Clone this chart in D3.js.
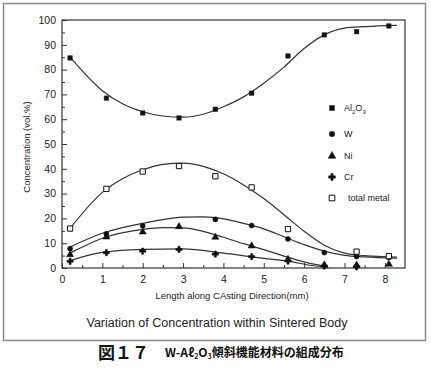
<!DOCTYPE html>
<html>
<head>
<meta charset="utf-8">
<script src="https://cdn.jsdelivr.net/npm/d3@7"></script>
<style>
  body { margin: 0; background: #fff; }
  svg { display: block; font-family: "Liberation Sans", Arial, sans-serif; }
</style>
</head>
<body>
<svg id="chart" width="431" height="373"></svg>
<script>
// positions de mesure (mm) et concentrations lues (vol.%)
const lengths = [0.2, 1.1, 2.0, 2.9, 3.8, 4.7, 5.6, 6.5, 7.3, 8.1];
const al2o3 = [84.7, 68.5, 62.5, 60.5, 64, 70.5, 85.5, 94, 95.3, 97.6];
const tungsten = [7.8, 13.8, 17, null, 19.6, 17.1, 11.7, 6.2, 4.6, 4.2];
const nickel = [5.4, 12.5, 14.5, 16.7, 12.4, 8.9, 3.5, 1.2, 1.2, 1.5];
const chromium = [2.7, 6.2, 6.8, 7.5, 5.6, 4.6, 2.8, 0.8, 0.5, null];
const totalMetal = [15.9, 31.9, 38.9, 41.1, 37, 32.5, 15.7, null, 6.6, 4.8];

// courbes lissées
const al2o3Fit = [[0.2, 85], [1, 71.5], [1.5, 66.2], [2, 63], [2.5, 61.3], [3, 60.8], [3.5, 62], [4, 65],
  [4.5, 69], [5, 74.5], [5.5, 81], [6, 88.5], [6.5, 94], [7, 96.7], [7.5, 97.3], [8.3, 97.8]];
const totalFit = [[0.2, 16], [1, 30.5], [1.5, 36], [2, 39.6], [2.5, 41.8], [3, 42.3], [3.5, 41], [4, 38],
  [4.5, 33.5], [5, 28], [5.5, 21.5], [6, 14.8], [6.5, 9.2], [7, 6], [7.5, 5], [8.3, 4.4]];
const tungstenFit = [[0.2, 8.5], [1, 14], [2, 18], [3, 20.5], [3.5, 20.6], [4, 19.8], [4.5, 18], [5, 15.8],
  [5.5, 12.6], [6, 9.4], [6.5, 6.8], [7, 5.1], [7.5, 4.5], [8.3, 4]];
const nickelFit = [[0.2, 6], [1, 12], [2, 15.6], [2.5, 16.3], [3, 16.2], [3.5, 14.8], [4, 12.4], [4.5, 9.8],
  [5, 7.4], [5.5, 4.8], [6, 2.5], [6.5, 0.8]];
const chromiumFit = [[0.2, 3], [1, 6.3], [2, 7.5], [3, 7.7], [4, 6], [5, 3.9], [5.6, 2.8], [6.2, 1], [6.6, 0.3]];

const xTicks = [0, 1, 2, 3, 4, 5, 6, 7, 8];
const yTicks = [0, 10, 20, 30, 40, 50, 60, 70, 80, 90, 100];

const svg = d3.select("#chart");

// cadre extérieur (scan)
svg.append("rect")
  .attr("x", 3.5).attr("y", 3.5).attr("width", 422).attr("height", 337)
  .attr("fill", "none").attr("stroke", "#8a8a8a").attr("stroke-width", 1.5);

const x = d3.scaleLinear().domain([0, 8.5]).range([62, 405]);
const y = d3.scaleLinear().domain([0, 100]).range([268, 20]);

// graduations mineures (vers l'intérieur)
svg.append("g")
  .attr("transform", "translate(62,0)")
  .call(d3.axisLeft(y).tickValues(d3.range(5, 100, 10)).tickSize(-3).tickFormat(""))
  .call(g => g.select(".domain").remove());
svg.append("g")
  .attr("transform", "translate(0,268)")
  .call(d3.axisBottom(x).tickValues(d3.range(0.5, 8.5, 1)).tickSize(-3).tickFormat(""))
  .call(g => g.select(".domain").remove());

// graduations majeures avec labels
svg.append("g")
  .attr("transform", "translate(62,0)")
  .call(d3.axisLeft(y).tickValues(yTicks).tickSize(-5).tickPadding(6))
  .call(g => g.select(".domain").remove())
  .call(g => g.selectAll("text").attr("font-size", 10.5).attr("fill", "#222").attr("font-family", "Liberation Sans"));
svg.append("g")
  .attr("transform", "translate(0,268)")
  .call(d3.axisBottom(x).tickValues(xTicks).tickSize(-5).tickPadding(8))
  .call(g => g.select(".domain").remove())
  .call(g => g.selectAll("text").attr("font-size", 10.5).attr("fill", "#222").attr("font-family", "Liberation Sans"));

svg.selectAll(".tick line").attr("stroke", "#333");

// cadre du graphe
svg.append("rect")
  .attr("x", x(0)).attr("y", y(100))
  .attr("width", x(8.5) - x(0)).attr("height", y(0) - y(100))
  .attr("fill", "none").attr("stroke", "#333").attr("stroke-width", 1.2);

// courbes
const line = d3.line()
  .x(d => x(d[0]))
  .y(d => y(d[1]))
  .curve(d3.curveMonotoneX);

[al2o3Fit, totalFit, tungstenFit, nickelFit, chromiumFit].forEach(fit => {
  svg.append("path")
    .attr("d", line(fit))
    .attr("fill", "none")
    .attr("stroke", "#333")
    .attr("stroke-width", 1.2);
});

// séries de points
const series = [
  { name: "Al2O3", values: al2o3, symbol: d3.symbolSquare, size: 20, open: false },
  { name: "W", values: tungsten, symbol: d3.symbolCircle, size: 20, open: false },
  { name: "Ni", values: nickel, symbol: d3.symbolTriangle, size: 22, open: false },
  { name: "Cr", values: chromium, symbol: d3.symbolCross, size: 22, open: false },
  { name: "total metal", values: totalMetal, symbol: d3.symbolSquare, size: 28, open: true }
];

series.forEach(s => {
  const pts = lengths.map((l, i) => [l, s.values[i]]).filter(p => p[1] != null);
  svg.append("g").selectAll("path")
    .data(pts)
    .join("path")
    .attr("transform", d => `translate(${x(d[0])},${y(d[1])})`)
    .attr("d", d3.symbol(s.symbol, s.size))
    .attr("fill", s.open ? "#fff" : "#111")
    .attr("stroke", "#111")
    .attr("stroke-width", s.open ? 1 : 0.5);
});

// légende
const legendY = [108, 134, 156, 177, 198];
const legend = svg.append("g").attr("font-size", 9).attr("fill", "#222");
series.forEach((s, i) => {
  legend.append("path")
    .attr("transform", `translate(332,${legendY[i]})`)
    .attr("d", d3.symbol(s.symbol, s.size + 4))
    .attr("fill", s.open ? "#fff" : "#111")
    .attr("stroke", "#111")
    .attr("stroke-width", s.open ? 1 : 0.5);
  const t = legend.append("text")
    .attr("x", s.open ? 348 : 344)
    .attr("y", legendY[i])
    .attr("dy", "0.35em");
  if (s.name === "Al2O3") {
    t.append("tspan").text("Al");
    t.append("tspan").attr("font-size", 6).attr("dy", 3).text("2");
    t.append("tspan").attr("dy", -3).text("O");
    t.append("tspan").attr("font-size", 6).attr("dy", 3).text("3");
  } else {
    t.text(s.name);
  }
});

// titres des axes
svg.append("text")
  .attr("x", 232).attr("y", 299)
  .attr("text-anchor", "middle")
  .attr("font-size", 9.5).attr("fill", "#222")
  .text("Length along CAsting Direction(mm)");

svg.append("text")
  .attr("transform", "translate(30,147) rotate(-90)")
  .attr("text-anchor", "middle")
  .attr("font-size", 9.5).attr("fill", "#222")
  .text("Concentration (vol.%)");

svg.append("text")
  .attr("x", 217).attr("y", 327)
  .attr("text-anchor", "middle")
  .attr("font-size", 12.5).attr("fill", "#222")
  .text("Variation of Concentration within Sintered Body");

// légende de la figure
svg.append("text")
  .attr("x", 98).attr("y", 359)
  .attr("font-family", "Noto Sans CJK JP")
  .attr("font-size", 17).attr("font-weight", "bold").attr("fill", "#111")
  .text("図１７");

const cap = svg.append("text")
  .attr("x", 165).attr("y", 357)
  .attr("font-family", "Noto Sans CJK JP")
  .attr("font-size", 12).attr("font-weight", "bold").attr("fill", "#111");
cap.append("tspan").text("W-Aℓ");
cap.append("tspan").attr("font-size", 7).attr("dy", 2).text("2");
cap.append("tspan").attr("dy", -2).text("O");
cap.append("tspan").attr("font-size", 7).attr("dy", 2).text("3");
cap.append("tspan").attr("dy", -2).text("傾斜機能材料の組成分布");
</script>
</body>
</html>
